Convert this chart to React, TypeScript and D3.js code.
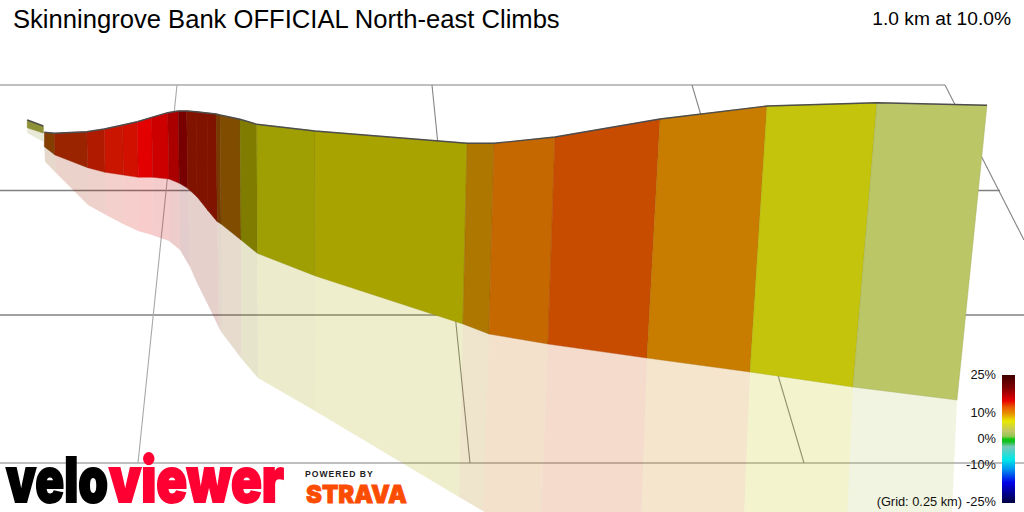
import React, { useLayoutEffect, useRef } from "react";
import * as d3 from "d3";

const W = 1024, H = 512;
const title = "Skinningrove Bank OFFICIAL North-east Climbs";
const summary = "1.0 km at 10.0%";
const gridNote = "(Grid: 0.25 km)";

// Projected profile stations (in screen-projected units)
const topX =   [27.3, 43.3, 44.3, 54.3, 86.7, 104.3, 122.7, 137.3, 151.7, 167.7, 178.3, 186.7, 196, 207, 216, 220, 240, 256.7, 315, 467, 494, 555, 660, 767, 877, 987];
const topY =   [120, 126, 132.3, 133.3, 131.7, 129, 125, 121.7, 117.3, 112.7, 111, 111, 111.8, 113, 114, 115, 119.3, 124.3, 131, 143.3, 143.3, 137, 119, 106, 102.7, 105.3];
const baseX =  [27.3, 43.3, 44.3, 55, 87.7, 105, 123.3, 138.3, 152.7, 169, 179.3, 187.7, 197, 208, 217.3, 221, 241, 257.3, 315.5, 463, 489, 548, 647, 750, 853, 957];
const baseY =  [127.7, 133, 146.7, 155, 167.7, 172.3, 175, 177.3, 177.3, 179, 183.3, 188.3, 196.7, 210.5, 221.7, 224, 240, 253.3, 276, 324, 334, 344, 358, 372, 387, 400];
const shadowX = [27.3, 43.3, 45, 56, 88, 106, 123, 138, 152, 169, 180, 190, 197, 208, 219, 222, 241, 258, 315, 459, 483, 540, 638, 738, 838, 940];
const shadowY = [133, 141.7, 161.7, 173, 205, 215, 224, 231, 235, 241, 250, 267, 283, 305, 328, 333, 358, 378, 411, 497, 511, 545, 605, 660, 720, 780];

// One value per face between stations
const gradient = [4, 4, 11.5, 13.5, 14, 14.3, 14.5, 15, 16, 17, 20, 14, 14, 14, 11.5, 10.2, 7.2, 6.8, 7.3, 9.5, 11, 12.5, 10, 6.5, 2.8];
const lighting = [0.7, 0.7, 0.57, 0.67, 0.76, 0.87, 0.9, 0.98, 0.97, 0.9, 0.94, 0.55, 0.55, 0.55, 0.52, 0.55, 0.55, 0.69, 0.73, 0.75, 0.85, 0.86, 0.86, 0.86, 1];

const gradStops = [-25, -17, -12, -8, -3, -1, 0, 1, 3, 7, 10, 12.5, 15, 20, 25];
const gradColors = ["#000040", "#0000e8", "#0090f0", "#00e8e8", "#78c8b8", "#10c020", "#10c810", "#90c850", "#c0c668", "#e8e800", "#e89000", "#e85800", "#e80000", "#800000", "#400000"];
const legendTicks = [25, 10, 0, -10, -25];

// Ground grid in projected coordinates, with its thickness
const gridH = [
  [0, 85, 945, 85, 1.1],
  [0, 190.5, 1000, 190.5, 1.7],
  [0, 315, 1024, 315, 1.5],
  [0, 463, 1024, 463, 1.2],
];
const gridD = [
  [177, 85, 138, 463],
  [432, 85, 470, 463],
  [692, 85, 804, 463],
  [945, 85, 1024, 240],
];

const color = d3.scaleLinear<string>().domain(gradStops).range(gradColors).interpolate(d3.interpolateRgb);
const legendY = d3.scaleLinear().domain([-25, 25]).range([503, 375]);
const faceColor = (i: number) => {
  const c = d3.rgb(color(gradient[i]));
  const k = lighting[i];
  return d3.rgb(c.r * k, c.g * k, c.b * k).formatHex();
};
const poly = d3.line<number[]>().x((d) => d[0]).y((d) => d[1]);
const FONT = "'Liberation Sans', Arial, sans-serif";
const LOGO_FONT = "Inter, 'DejaVu Sans', sans-serif";

function FitText(props: { x: number; y: number; w: number; size: number; fill: string; sw: number; children: string }) {
  const ref = useRef<SVGTextElement>(null);
  useLayoutEffect(() => {
    const el = ref.current;
    if (!el) return;
    const natural = el.getComputedTextLength();
    el.setAttribute("transform", `translate(${props.x},${props.y}) scale(${props.w / natural},1)`);
  });
  return (
    <text ref={ref} fontFamily={LOGO_FONT} fontSize={props.size} fontWeight={900} fill={props.fill}
      stroke={props.fill} strokeWidth={props.sw}>{props.children}</text>
  );
}

export default function App() {
  const topLine = topX.map((x, i) => [x, topY[i]]);
  return (
    <svg width={W} height={H} viewBox={`0 0 ${W} ${H}`} fontFamily={FONT}
      style={{ position: "absolute", left: 0, top: 0, display: "block", background: "#fff" }}>
      <defs>
        <linearGradient id="leg" x1="0" y1="1" x2="0" y2="0">
          {gradStops.map((s, i) => (
            <stop key={i} offset={(s + 25) / 50} stopColor={gradColors[i]} />
          ))}
        </linearGradient>
      </defs>
      {gridH.map((g, i) => (
        <line key={i} x1={g[0]} y1={g[1]} x2={g[2]} y2={g[3]} stroke="#808080" strokeWidth={g[4]} />
      ))}
      {gridD.map((g, i) => (
        <line key={i} x1={g[0]} y1={g[1]} x2={g[2]} y2={g[3]} stroke={i === 0 ? "#a8a8a8" : "#858585"} strokeWidth={1.1} />
      ))}
      {gradient.map((_, i) => {
        if (i === 1) return null;
        return (
          <path key={i} fill={faceColor(i)} fillOpacity={0.2} d={poly([
            [baseX[i], baseY[i]], [baseX[i + 1], baseY[i + 1]],
            [shadowX[i + 1], shadowY[i + 1]], [shadowX[i], shadowY[i]],
          ]) + "Z"} />
        );
      })}
      {gradient.map((_, i) => {
        if (i === 1) return null;
        const c = faceColor(i);
        const same = gradient[i] === gradient[i + 1] || gradient[i] === gradient[i - 1];
        return (
          <path key={i} fill={c} stroke={same ? c : d3.rgb(c).darker(0.4).formatHex()} strokeWidth={0.7} strokeOpacity={same ? 1 : 0.6}
            d={poly([
              [topX[i], topY[i]], [topX[i + 1], topY[i + 1]],
              [baseX[i + 1], baseY[i + 1]], [baseX[i], baseY[i]],
            ]) + "Z"} />
        );
      })}
      <path d={poly(topLine.slice(0, 2)) || ""} fill="none" stroke="#4d4d4d" strokeWidth={1.4} />
      <path d={poly(topLine.slice(2)) || ""} fill="none" stroke="#4d4d4d" strokeWidth={1.4} />

      <text x={13} y={28} fontSize={25.6} fill="#000">{title}</text>
      <text x={1011} y={25} fontSize={19.2} fill="#000" textAnchor="end">{summary}</text>

      <rect x={1002} y={legendY(25)} width={13} height={legendY(-25) - legendY(25)} fill="url(#leg)" />
      {legendTicks.map((t) => (
        <text key={t} x={996} y={t === 25 ? 379 : t === -25 ? 506 : legendY(t) + 4} fontSize={12.8} textAnchor="end" fill="#111">{t}%</text>
      ))}
      <text x={962} y={506} fontSize={12.8} textAnchor="end" fill="#111">{gridNote}</text>

      <FitText x={6} y={502} w={102} size={62} fill="#000" sw={2}>velo</FitText>
      <FitText x={109} y={502} w={175} size={62} fill="#ff0033" sw={2}>viewer</FitText>
      <text x={305} y={476.7} fontFamily={FONT} fontSize={8.6} fontWeight={700} fill="#222" letterSpacing={1}>POWERED BY</text>
      <FitText x={306} y={502.5} w={101} size={25} fill="#fc4c02" sw={0.8}>STRAVA</FitText>
    </svg>
  );
}
